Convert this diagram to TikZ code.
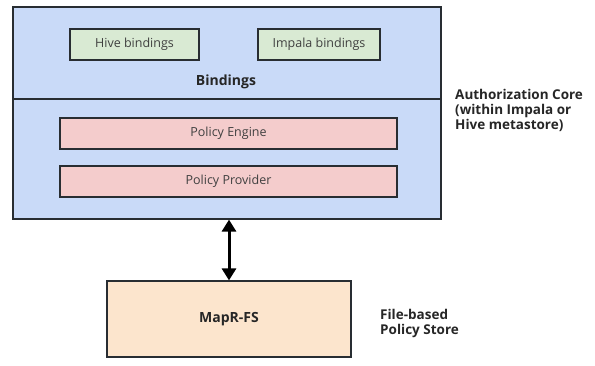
\documentclass[tikz,border=0pt]{standalone}
\usepackage{fontspec}
\setmainfont{Open Sans}
\usetikzlibrary{arrows.meta,positioning}
\definecolor{coreblue}{RGB}{201,218,248}
\definecolor{bindgreen}{RGB}{217,234,211}
\definecolor{polpink}{RGB}{244,204,204}
\definecolor{storepeach}{RGB}{252,229,205}
\definecolor{edge}{RGB}{40,45,50}
\tikzset{
  area/.style={draw=edge, fill=coreblue, line width=1.2pt, minimum width=428pt, inner sep=0pt},
  bindbox/.style={draw=edge, fill=bindgreen, line width=1.2pt, minimum height=31pt, font=\fontsize{12.5}{14}\selectfont, text=black!75},
  polbox/.style={draw=edge, fill=polpink, line width=1.2pt, minimum width=337pt, minimum height=31pt, font=\fontsize{12.5}{14}\selectfont, text=black!75},
  storebox/.style={draw=edge, fill=storepeach, line width=1.2pt, minimum width=244pt, minimum height=76pt, font=\fontsize{14}{16}\selectfont\bfseries, text=black!85},
  side/.style={font=\fontsize{13.5}{15}\selectfont\bfseries, align=left, text=black!85, inner sep=0pt},
  link/.style={{Triangle[length=12pt,width=14pt]}-{Triangle[length=12pt,width=14pt]}, line width=3pt}
}
\begin{document}
\begin{tikzpicture}[x=1pt,y=-1pt]
\useasboundingbox (0,0) rectangle (595,365);
\node[area,minimum height=92pt] (bindarea) at (227,53) {};
\node[area,minimum height=120pt] (polarea) at (227,159) {};
\node[bindbox,minimum width=129pt] (hive) at (134.5,44.5) {Hive bindings};
\node[bindbox,minimum width=122pt] (impala) at (319,44.5) {Impala bindings};
\node[font=\fontsize{14}{16}\selectfont\bfseries, text=black!85] (bindlabel) at (226,82) {Bindings};
\node[polbox] (engine) at (228.5,133.5) {Policy Engine};
\node[polbox] (provider) at (228.5,181.5) {Policy Provider};
\node[storebox] (mapr) at (229,319) {MapR-FS};
\draw[link] (polarea.south -| mapr.north) -- (mapr.north);
\node[side,anchor=west] (corelabel) at (455,110) {Authorization Core\\(within Impala or\\Hive metastore)};
\node[side,anchor=west] (storelabel) at (380,323) {File-based\\Policy Store};
\end{tikzpicture}
\end{document}
